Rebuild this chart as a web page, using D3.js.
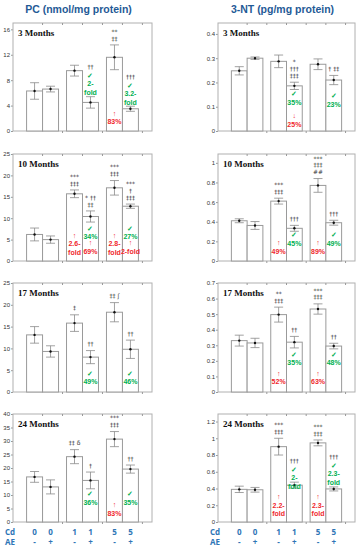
<!DOCTYPE html>
<head>
    <meta charset="utf-8">
    <style>
        body { margin: 0; background: #fff; }
        svg { display: block; }
        .frame { fill: none; stroke: #b0b0b0; stroke-width: 1px; }
        .bar { fill: #fff; stroke: #9a9a9a; stroke-width: 1px; }
        .err { stroke: #8a8a8a; stroke-width: 0.8px; fill: none; }
        .dot { fill: #111; }
        .axis text { font-family: 'Liberation Sans', Arial, sans-serif; font-size: 6px; fill: #333; }
        .axis line { stroke: #999; }
        .axis .domain { display: none; }
        .title { font-family: 'Liberation Sans', Arial, sans-serif; font-weight: bold; font-size: 10.5px; fill: #1f5a96; }
        .month { font-family: 'Liberation Serif', 'Times New Roman', serif; font-weight: bold; font-size: 9px; fill: #111; }
        .sig { font-family: 'DejaVu Sans', 'Liberation Sans', sans-serif; font-size: 6px; fill: #333; }
        .note { font-family: 'Liberation Sans Narrow', 'Arial Narrow', 'Liberation Sans', sans-serif; font-weight: bold; font-size: 7px; }
        .rise { fill: #f0282d; }
        .fall { fill: #00b050; }
        .group { font-family: 'Open Sans', 'Liberation Sans', sans-serif; font-weight: bold; font-size: 8px; fill: #2e75b6; }
    </style>
</head>
<body>
    <div id="chart"></div>
    <script src="https://d3js.org/d3.v7.min.js"></script>
    <script>
        // groups on the x axis
        var cdLabels = ["0", "0", "1", "1", "5", "5"];
        var aeLabels = ["-", "+", "-", "+", "-", "+"];
        var doseGroups = ["0", "1", "5"];
        var monthLabels = ["3 Months", "10 Months", "17 Months", "24 Months"];

        // PC (nmol/mg protein), mean and error, one row per age
        var pcMean = [
            [6.3, 6.6, 9.5, 4.5, 11.6, 3.5],
            [6.2, 5.0, 15.7, 10.4, 17.1, 12.8],
            [13.1, 9.3, 15.8, 8.0, 18.3, 9.8],
            [16.7, 13.0, 24.2, 15.4, 30.7, 19.6]
        ];
        var pcErr = [
            [1.3, 0.45, 0.85, 0.9, 1.95, 0.4],
            [1.5, 0.85, 0.9, 1.3, 1.7, 0.5],
            [1.9, 1.3, 1.9, 1.5, 2.2, 2.1],
            [2.0, 2.6, 2.6, 3.1, 2.8, 1.5]
        ];
        var pcMax = [17, 25, 25, 40];
        var pcTicks = [
            [0, 4, 8, 12, 16],
            [0, 5, 10, 15, 20, 25],
            [0, 5, 10, 15, 20, 25],
            [0, 5, 10, 15, 20, 25, 30, 35, 40]
        ];

        // 3-NT (pg/mg protein)
        var ntMean = [
            [0.248, 0.300, 0.287, 0.186, 0.275, 0.210],
            [0.410, 0.362, 0.610, 0.333, 0.770, 0.390],
            [0.330, 0.315, 0.497, 0.320, 0.533, 0.295],
            [0.390, 0.385, 0.900, 0.440, 0.945, 0.395]
        ];
        var ntErr = [
            [0.017, 0.005, 0.026, 0.015, 0.022, 0.019],
            [0.020, 0.040, 0.030, 0.030, 0.070, 0.025],
            [0.035, 0.030, 0.048, 0.037, 0.033, 0.018],
            [0.038, 0.028, 0.100, 0.036, 0.035, 0.024]
        ];
        var ntMax = [0.445, 1.09, 0.7, 1.29];
        var ntTicks = [
            [0, 0.1, 0.2, 0.3, 0.4],
            [0, 0.2, 0.4, 0.6, 0.8, 1],
            [0, 0.1, 0.2, 0.3, 0.4, 0.5, 0.6, 0.7],
            [0, 0.2, 0.4, 0.6, 0.8, 1, 1.2]
        ];

        // significance marks over each bar
        var pcSig = [
            [[], [], [], ["††"], ["**", "‡‡"], ["†††"]],
            [[], [], ["***", "‡‡‡"], ["* ††", "‡‡"], ["***", "‡‡‡"], ["***", "†", "‡‡‡"]],
            [[], [], ["‡"], ["††"], ["‡‡ ʃ"], ["††"]],
            [[], [], ["‡‡ δ"], ["†"], ["***", "‡‡‡"], ["††"]]
        ];
        var ntSig = [
            [[], [], [], ["*", "†††", "‡‡‡"], [], ["† ‡‡"]],
            [[], [], ["***", "‡‡‡"], ["†††"], ["***", "‡‡‡", "##"], ["†††"]],
            [[], [], ["**", "‡‡‡"], ["††"], ["***", "‡‡‡"], ["††"]],
            [[], [], ["***", "‡‡‡"], ["†††"], ["***", "‡‡‡"], ["†††"]]
        ];

        // change notes: [bar, kind, value where the first line sits, lines]
        var pcNotes = [
            [[3, "fall", 8.8, ["✓", "2-", "fold"]], [4, "rise", 2.8, ["↑", "83%"]], [5, "fall", 7.2, ["✓", "3.2-", "fold"]]],
            [[2, "rise", 6.0, ["↑", "2.6-", "fold"]], [3, "fall", 7.6, ["✓", "34%"]], [3, "rise", 4.2, ["↑", "69%"]],
             [4, "rise", 6.0, ["↑", "2.8-", "fold"]], [5, "fall", 7.6, ["✓", "27%"]], [5, "rise", 4.2, ["↑", "2-fold"]]],
            [[3, "fall", 4.3, ["✓", "49%"]], [5, "fall", 4.3, ["✓", "46%"]]],
            [[3, "fall", 10.4, ["✓", "36%"]], [4, "rise", 6.3, ["↑", "83%"]], [5, "fall", 10.4, ["✓", "35%"]]]
        ];
        var ntNotes = [
            [[3, "fall", 0.154, ["✓", "35%"]], [3, "rise", 0.0625, ["↓", "25%"]], [5, "fall", 0.146, ["✓", "23%"]]],
            [[2, "rise", 0.184, ["↑", "49%"]], [3, "fall", 0.265, ["✓", "45%"]], [4, "rise", 0.184, ["↑", "89%"]], [5, "fall", 0.265, ["✓", "49%"]]],
            [[2, "rise", 0.12, ["↑", "52%"]], [3, "fall", 0.243, ["✓", "35%"]], [4, "rise", 0.12, ["↑", "63%"]], [5, "fall", 0.243, ["✓", "48%"]]],
            [[2, "rise", 0.303, ["↑", "2.2-", "fold"]], [3, "fall", 0.63, ["✓", "2-", "fold"]], [4, "rise", 0.303, ["↑", "2.3-", "fold"]], [5, "fall", 0.68, ["✓", "2.3-", "fold"]]]
        ];

        var width = 361, height = 550;
        var rowTop = [23, 154, 283, 414],
            rowBottom = [131, 261, 392, 522];
        var cols = [
            {x0: 13, x1: 152, title: "PC (nmol/mg protein)", mean: pcMean, err: pcErr, max: pcMax, ticks: pcTicks, sig: pcSig, notes: pcNotes},
            {x0: 218, x1: 355, title: "3-NT (pg/mg protein)", mean: ntMean, err: ntErr, max: ntMax, ticks: ntTicks, sig: ntSig, notes: ntNotes}
        ];

        var svg = d3.select("#chart").append("svg")
            .attr("width", width)
            .attr("height", height);

        var noteStep = 8.5, sigStep = 6.8;

        cols.forEach(function(c) {
            var x = d3.scaleBand()
                .domain(doseGroups)
                .range([c.x0, c.x1])
                .paddingInner(0.2)
                .paddingOuter(0.34);
            var half = x.bandwidth() / 2;
            function barX(i) { return x(cdLabels[i]) + (aeLabels[i] === "+" ? half : 0); }

            svg.append("text")
                .attr("class", "title")
                .attr("x", (c.x0 + c.x1) / 2 - 4)
                .attr("y", 13)
                .attr("text-anchor", "middle")
                .text(c.title);

            monthLabels.forEach(function(m, r) {
                var y = d3.scaleLinear()
                    .domain([0, c.max[r]])
                    .range([rowBottom[r], rowTop[r]]);
                var g = svg.append("g");

                g.append("g")
                    .attr("class", "axis")
                    .attr("transform", "translate(" + c.x0 + ",0)")
                    .call(d3.axisLeft(y).tickValues(c.ticks[r]).tickSize(2).tickPadding(1).tickFormat(d3.format("~g")));

                g.append("rect")
                    .attr("class", "frame")
                    .attr("x", c.x0)
                    .attr("y", rowTop[r])
                    .attr("width", c.x1 - c.x0)
                    .attr("height", rowBottom[r] - rowTop[r]);

                // little ticks on top and bottom of the frame
                var marks = [];
                doseGroups.forEach(function(d) {
                    var mid = x(d) + half;
                    marks.push(mid, mid + x.step() / 2);
                });
                g.selectAll(".tt").data(marks).enter().append("line")
                    .attr("x1", function(d) { return d; })
                    .attr("x2", function(d) { return d; })
                    .attr("y1", rowTop[r])
                    .attr("y2", rowTop[r] + 2)
                    .attr("stroke", "#999");
                g.selectAll(".bt").data(marks.filter(function(d, i) { return i % 2 === 1; })).enter().append("line")
                    .attr("x1", function(d) { return d; })
                    .attr("x2", function(d) { return d; })
                    .attr("y1", rowBottom[r])
                    .attr("y2", rowBottom[r] + 2)
                    .attr("stroke", "#999");

                g.append("text")
                    .attr("class", "month")
                    .attr("x", c.x0 + 5)
                    .attr("y", rowTop[r] + 13)
                    .text(m);

                var mean = c.mean[r], err = c.err[r];

                g.selectAll(".bar").data(mean).enter().append("rect")
                    .attr("class", "bar")
                    .attr("x", function(d, i) { return barX(i); })
                    .attr("y", function(d) { return y(d); })
                    .attr("width", half)
                    .attr("height", function(d) { return y(0) - y(d); });

                mean.forEach(function(d, i) {
                    var cx = barX(i) + half / 2, cap = 4.5;
                    var lo = y(d - err[i]), hi = y(d + err[i]);
                    g.append("path")
                        .attr("class", "err")
                        .attr("d", "M" + cx + "," + lo + "V" + hi +
                            "M" + (cx - cap) + "," + lo + "H" + (cx + cap) +
                            "M" + (cx - cap) + "," + hi + "H" + (cx + cap));
                    g.append("circle")
                        .attr("class", "dot")
                        .attr("cx", cx)
                        .attr("cy", y(d))
                        .attr("r", 1.2);
                });

                // notes (green = decrease with AE, red = increase with Cd)
                var noteTop = mean.map(function() { return Infinity; });
                c.notes[r].forEach(function(n) {
                    var cx = barX(n[0]) + half / 2;
                    var y0 = y(n[2]);
                    noteTop[n[0]] = Math.min(noteTop[n[0]], y0);
                    n[3].forEach(function(line, k) {
                        g.append("text")
                            .attr("class", "note " + n[1])
                            .attr("x", cx)
                            .attr("y", y0 + k * noteStep)
                            .attr("dy", "0.35em")
                            .attr("text-anchor", "middle")
                            .text(line);
                    });
                });

                // significance marks stacked over the error bar (or over a note above it)
                c.sig[r].forEach(function(lines, i) {
                    if (!lines.length) return;
                    var cx = barX(i) + half / 2;
                    var base = Math.min(y(mean[i] + err[i]) - 6.5, noteTop[i] - 8);
                    lines.slice().reverse().forEach(function(line, k) {
                        g.append("text")
                            .attr("class", "sig")
                            .attr("x", cx)
                            .attr("y", base - k * sigStep)
                            .attr("dy", "0.35em")
                            .attr("text-anchor", "middle")
                            .text(line);
                    });
                });
            });

            // Cd / AE rows under the last panel
            [["Cd", cdLabels, 532], ["AE", aeLabels, 542]].forEach(function(row) {
                svg.append("text")
                    .attr("class", "group")
                    .attr("x", c.x0 - 8)
                    .attr("y", row[2])
                    .attr("dy", "0.35em")
                    .text(row[0]);
                svg.selectAll(null).data(row[1]).enter().append("text")
                    .attr("class", "group")
                    .attr("x", function(d, i) { return barX(i) + half / 2; })
                    .attr("y", row[2])
                    .attr("dy", "0.35em")
                    .attr("text-anchor", "middle")
                    .text(function(d) { return d; });
            });
        });
    </script>
</body>
